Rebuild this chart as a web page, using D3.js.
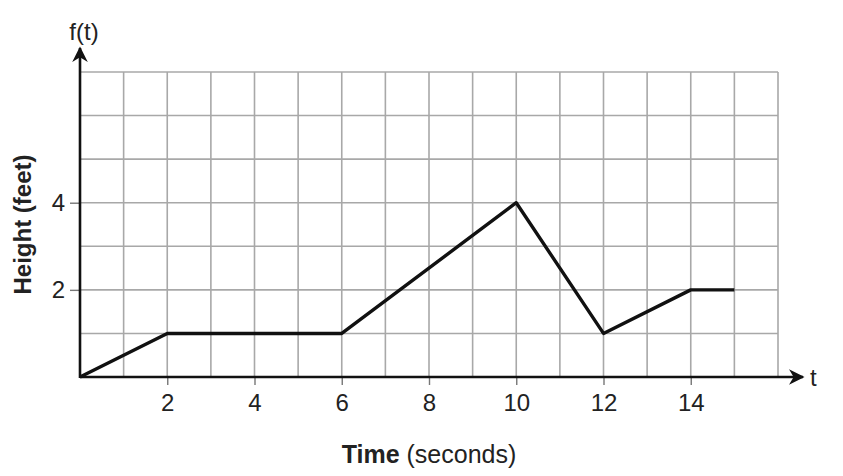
<!DOCTYPE html>
<html>
<head>
<meta charset="utf-8">
<script src="https://cdn.jsdelivr.net/npm/d3@7"></script>
<style>
  body { margin: 0; background: #fff; }
  text { font-family: "Liberation Sans", Arial, sans-serif; fill: #222; }
</style>
</head>
<body>
<div class="vis-graph"></div>
<script>
// data
const times = [0, 2, 6, 10, 12, 14, 15];
const heights = [0, 1, 1, 4, 1, 2, 2];
const xTickLabels = [2, 4, 6, 8, 10, 12, 14];
const yTickLabels = [2, 4];
const xGrid = d3.range(0, 17);
const yGrid = d3.range(0, 8);

const width = 843, height = 476;

const svg = d3.select(".vis-graph")
    .append("svg")
    .attr("width", width)
    .attr("height", height);

const x = d3.scaleLinear().domain([0, 16]).range([80, 778]);
const y = d3.scaleLinear().domain([0, 7]).range([377, 72]);

// grid
svg.append("g")
    .selectAll("line")
    .data(xGrid)
    .join("line")
    .attr("x1", d => x(d)).attr("x2", d => x(d))
    .attr("y1", y(0)).attr("y2", y(7))
    .attr("stroke", "#a8a8a8")
    .attr("stroke-width", 1.6);

svg.append("g")
    .selectAll("line")
    .data(yGrid)
    .join("line")
    .attr("x1", x(0)).attr("x2", x(16))
    .attr("y1", d => y(d)).attr("y2", d => y(d))
    .attr("stroke", "#a8a8a8")
    .attr("stroke-width", 1.6);

// arrow marker
svg.append("defs").append("marker")
    .attr("id", "arrow")
    .attr("viewBox", "0 0 10 10")
    .attr("refX", 9).attr("refY", 5)
    .attr("markerWidth", 6).attr("markerHeight", 6)
    .attr("markerUnits", "strokeWidth")
    .attr("orient", "auto")
    .append("path")
    .attr("d", "M0,0L10,5L0,10L3,5z")
    .attr("fill", "#111");

// x axis with ticks below
const xAxis = svg.append("g")
    .attr("transform", `translate(0,${y(0)})`)
    .call(d3.axisBottom(x).tickValues(xTickLabels).tickFormat(d3.format("d")).tickSize(8).tickPadding(9))
    .call(g => g.select(".domain").remove());
xAxis.selectAll(".tick line").attr("stroke", "#777").attr("stroke-width", 1.4);
xAxis.selectAll(".tick text")
    .style("font-size", "24px")
    .attr("fill", "#333");

const yAxis = svg.append("g")
    .attr("transform", `translate(${x(0)},0)`)
    .call(d3.axisLeft(y).tickValues(yTickLabels).tickFormat(d3.format("d")).tickSize(10).tickPadding(5))
    .call(g => g.select(".domain").remove());
yAxis.selectAll(".tick line").attr("stroke", "#777").attr("stroke-width", 1.4);
yAxis.selectAll(".tick text")
    .style("font-size", "24px")
    .attr("fill", "#333");

// axis lines with arrows
svg.append("line")
    .attr("x1", x(0)).attr("y1", y(0))
    .attr("x2", 803).attr("y2", y(0))
    .attr("stroke", "#111").attr("stroke-width", 2.6)
    .attr("marker-end", "url(#arrow)");

svg.append("line")
    .attr("x1", x(0)).attr("y1", y(0) + 1)
    .attr("x2", x(0)).attr("y2", 48)
    .attr("stroke", "#111").attr("stroke-width", 2.6)
    .attr("marker-end", "url(#arrow)");

// the function
const line = d3.line()
    .x((d, i) => x(times[i]))
    .y(d => y(d));

svg.append("path")
    .datum(heights)
    .attr("d", line)
    .attr("fill", "none")
    .attr("stroke", "#111")
    .attr("stroke-width", 3.4)
    .attr("stroke-linejoin", "round");

// labels
svg.append("text")
    .attr("x", 84).attr("y", 40)
    .attr("text-anchor", "middle")
    .style("font-size", "24px")
    .attr("fill", "#333")
    .text("f(t)");

svg.append("text")
    .attr("x", 810).attr("y", 386)
    .style("font-size", "24px")
    .attr("fill", "#333")
    .text("t");

svg.append("text")
    .attr("transform", `translate(31,${y(3.5)}) rotate(-90)`)
    .attr("text-anchor", "middle")
    .style("font-size", "24px")
    .attr("font-weight", "bold")
    .attr("fill", "#222")
    .text("Height (feet)");

const xt = svg.append("text")
    .attr("x", x(8)).attr("y", 463)
    .attr("text-anchor", "middle")
    .style("font-size", "25px")
    .attr("fill", "#333");
xt.append("tspan").attr("font-weight", "bold").attr("fill", "#222").text("Time");
xt.append("tspan").text(" (seconds)");
</script>
</body>
</html>
